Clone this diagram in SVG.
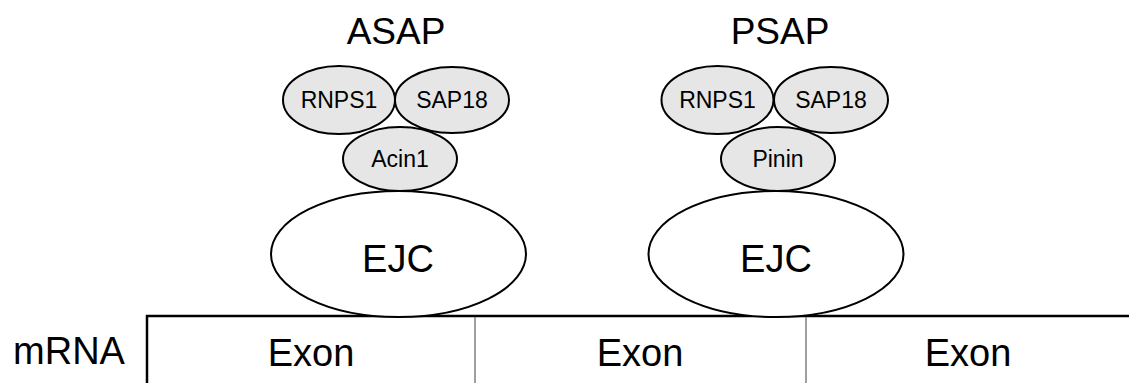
<svg xmlns="http://www.w3.org/2000/svg" width="1129" height="383" viewBox="0 0 1129 383">
<style>
text{font-family:"Liberation Sans",Arial,sans-serif;fill:#000;text-anchor:middle}
.title{font-size:37px}
.sm{fill:#e6e6e6;stroke:#000;stroke-width:2}
.big{fill:#fff;stroke:#000;stroke-width:2}
.st{font-size:23px}
.ejc{font-size:38px}
.lb{font-size:38px}
</style>
<rect width="1129" height="383" fill="#fff"/>
<g id="mrna">
<line x1="146" y1="316" x2="1129" y2="316" stroke="#000" stroke-width="2.5"/>
<line x1="147" y1="315" x2="147" y2="383" stroke="#000" stroke-width="2.5"/>
<line x1="475" y1="317" x2="475" y2="383" stroke="#7f7f7f" stroke-width="1.5"/>
<line x1="806" y1="317" x2="806" y2="383" stroke="#7f7f7f" stroke-width="1.5"/>
<text class="lb" x="69" y="364">mRNA</text>
<text class="lb" x="311" y="366">Exon</text>
<text class="lb" x="640" y="366">Exon</text>
<text class="lb" x="968" y="366">Exon</text>
</g>
<g id="asap">
<text class="title" x="396" y="44">ASAP</text>
<ellipse class="sm" cx="339" cy="100" rx="56" ry="34"/>
<ellipse class="sm" cx="452" cy="100" rx="57" ry="33"/>
<text class="st" x="339" y="108">RNPS1</text>
<text class="st" x="452" y="108">SAP18</text>
<ellipse class="sm" cx="400" cy="159" rx="57" ry="32"/>
<text class="st" x="400" y="167">Acin1</text>
<ellipse class="big" cx="398.5" cy="254" rx="127.5" ry="63"/>
<text class="ejc" x="398" y="272">EJC</text>
</g>
<g id="psap">
<text class="title" x="780" y="44">PSAP</text>
<ellipse class="sm" cx="717.5" cy="100" rx="56" ry="34"/>
<ellipse class="sm" cx="831" cy="100" rx="57" ry="33"/>
<text class="st" x="717.5" y="108">RNPS1</text>
<text class="st" x="831" y="108">SAP18</text>
<ellipse class="sm" cx="778" cy="159" rx="57" ry="32"/>
<text class="st" x="778" y="167">Pinin</text>
<ellipse class="big" cx="776" cy="254" rx="127.5" ry="63"/>
<text class="ejc" x="776" y="272">EJC</text>
</g>
<g id="connectors"></g>
</svg>
